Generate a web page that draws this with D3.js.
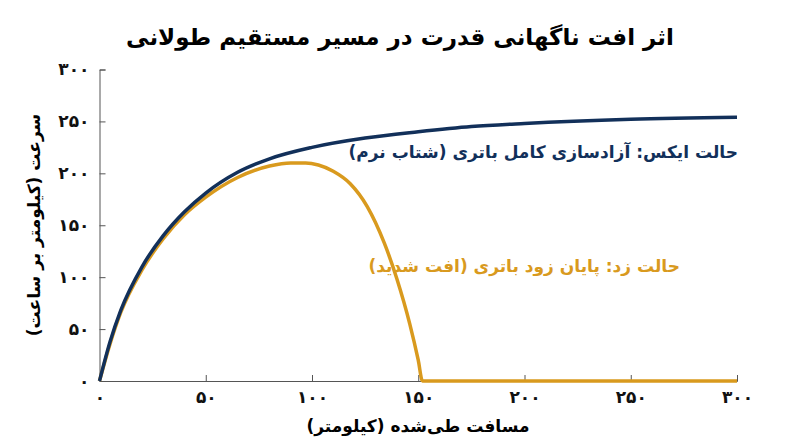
<!DOCTYPE html><html><head><meta charset="utf-8"><script src="https://cdn.jsdelivr.net/npm/d3@7"></script>
<style>body{margin:0;background:#fff}text{font-family:"DejaVu Sans",sans-serif}</style></head><body><svg id="c" width="800" height="447"></svg>
<script>
const xTicks=[0,50,100,150,200,250,300];
const yTicks=[0,50,100,150,200,250,300];
const fa=n=>String(n).replace(/\d/g,d=>"۰۱۲۳۴۵۶۷۸۹"[d]);
const fullX=[0,5,10,20,30,40,50,65,80,100,125,150,175,200,250,300];
const fullY=[0,38,68,110,140,163,181,201,214,225,234,240,245,248,252,254];
const earlyX=[0,5,10,20,30,40,50,65,80,90,97,103,110,118,126,134,140,146,150,152,200,250,300];
const earlyY=[0,36,66,107,137,160,177,196,207,210,210,208,202,190,168,133,98,55,20,0,0,0,0];
const svg=d3.select("#c");
const x=d3.scaleLinear().domain([0,300]).range([99.5,737]);
const y=d3.scaleLinear().domain([0,300]).range([381,69.5]);
svg.append("text").attr("x",400).attr("y",45).attr("text-anchor","middle").attr("font-size",23).attr("font-weight","bold").text("اثر افت ناگهانی قدرت در مسیر مستقیم طولانی");
const gx=svg.append("g").attr("transform","translate(0,381)").call(d3.axisBottom(x).tickValues(xTicks).tickSize(-6).tickPadding(10).tickFormat(fa));
const gy=svg.append("g").attr("transform","translate(99.5,0)").call(d3.axisLeft(y).tickValues(yTicks).tickSize(-6).tickPadding(10).tickFormat(fa));
[gx,gy].forEach(g=>{g.selectAll("path,line").attr("stroke","#555");g.selectAll("text").attr("font-size",17).attr("font-weight","bold").attr("fill","#111");});
const line=d3.line().x(d=>x(d[0])).y(d=>y(d[1])).curve(d3.curveMonotoneX);
svg.append("path").attr("d",line(earlyX.map((v,i)=>[v,earlyY[i]]))).attr("fill","none").attr("stroke","#D99A1E").attr("stroke-width",3.5);
svg.append("path").attr("d",line(fullX.map((v,i)=>[v,fullY[i]]))).attr("fill","none").attr("stroke","#12305A").attr("stroke-width",3.5);
svg.append("text").attr("x",738).attr("y",158).attr("text-anchor","end").attr("font-size",17).attr("font-weight","bold").attr("fill","#12305A").text("حالت ایکس: آزادسازی کامل باتری (شتاب نرم)");
svg.append("text").attr("x",680).attr("y",272).attr("text-anchor","end").attr("font-size",17).attr("font-weight","bold").attr("fill","#D99A1E").text("حالت زد: پایان زود باتری (افت شدید)");
svg.append("text").attr("x",418).attr("y",432).attr("text-anchor","middle").attr("font-size",17).attr("font-weight","bold").text("مسافت طی‌شده (کیلومتر)");
svg.append("text").attr("transform","translate(40,225) rotate(-90)").attr("text-anchor","middle").attr("font-size",17).attr("font-weight","bold").text("سرعت (کیلومتر بر ساعت)");
</script></body></html>
